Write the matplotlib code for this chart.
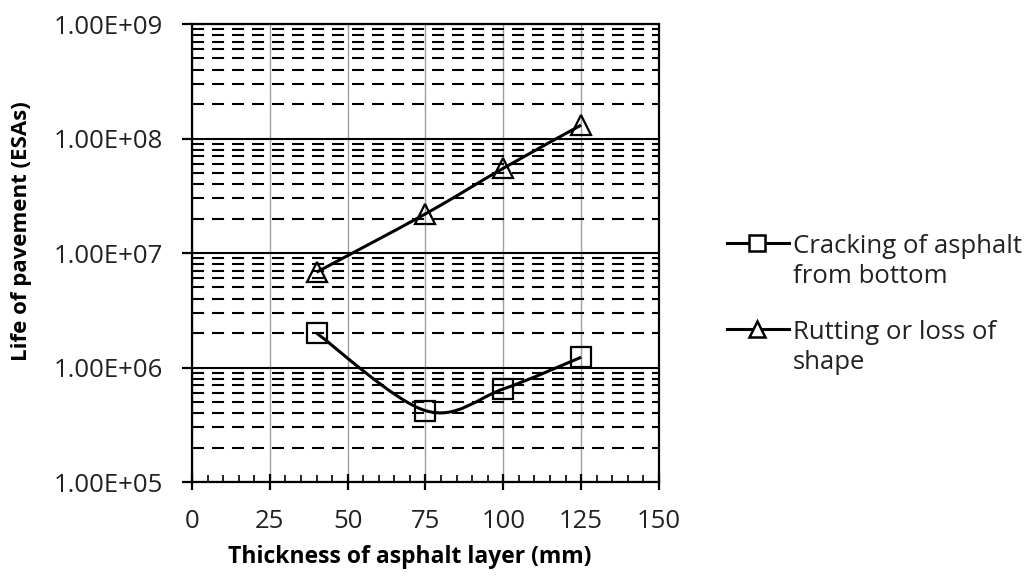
import numpy as np
import matplotlib

matplotlib.use("Agg")
import matplotlib.pyplot as plt  # noqa: E402
from matplotlib.path import Path  # noqa: E402
from matplotlib.patches import PathPatch  # noqa: E402
from matplotlib.ticker import FixedLocator, MultipleLocator, NullFormatter  # noqa: E402

thickness = [40, 75, 100, 125]
cracking = [2.0e6, 4.2e5, 6.5e5, 1.23e6]
rutting = [6.8e6, 2.2e7, 5.5e7, 1.31e8]
labels = ["Cracking of asphalt\nfrom bottom", "Rutting or loss of\nshape"]
y_ticks = [1e5, 1e6, 1e7, 1e8, 1e9]
y_ticklabels = ["1.00E+05", "1.00E+06", "1.00E+07", "1.00E+08", "1.00E+09"]

plt.rcParams["font.family"] = ["Open Sans", "DejaVu Sans"]
TEXT = "#222222"


def smooth_path(xs, ys):
    """Excel-like smoothed line: Bezier segments in (x, log y) space."""
    p = np.column_stack([np.asarray(xs, float), np.log10(ys)])
    verts = [p[0]]
    codes = [Path.MOVETO]
    n = len(p)
    for i in range(n - 1):
        p0 = p[i - 1] if i > 0 else p[i]
        p3 = p[i + 2] if i + 2 < n else p[i + 1]
        c1 = p[i] + (p[i + 1] - p0) / 6.0
        c2 = p[i + 1] - (p3 - p[i]) / 6.0
        verts += [c1, c2, p[i + 1]]
        codes += [Path.CURVE4] * 3
    verts = np.array(verts)
    verts[:, 1] = 10 ** verts[:, 1]
    return Path(verts, codes)


fig = plt.figure(figsize=(10.31, 5.77), dpi=100)
ax = fig.add_axes([0.1862, 0.1646, 0.453, 0.7938])
ax.set_yscale("log")
ax.set_xlim(0, 150)
ax.set_ylim(1e5, 1e9)

# gridlines
ax.yaxis.set_major_locator(FixedLocator(y_ticks))
ax.yaxis.set_minor_locator(FixedLocator(
    [m * 10 ** e for e in range(5, 9) for m in range(2, 10)]))
ax.yaxis.set_minor_formatter(NullFormatter())
ax.set_yticklabels(y_ticklabels)
ax.xaxis.set_major_locator(MultipleLocator(25))
ax.xaxis.set_minor_locator(MultipleLocator(5))
ax.grid(axis="y", which="major", color="black", lw=1.5)
ax.grid(axis="y", which="minor", color="black", lw=1.5, linestyle=(0, (5.8, 3.8)))
ax.grid(axis="x", which="major", color="#a0a0a0", lw=1.0)
ax.set_axisbelow(True)

for sp in ax.spines.values():
    sp.set_linewidth(1.6)
ax.tick_params(axis="x", which="major", direction="inout", length=11, width=1.6,
               labelsize=18.5, pad=14, labelcolor=TEXT)
ax.tick_params(axis="x", which="minor", direction="in", length=5, width=1.2)
ax.tick_params(axis="y", which="major", direction="out", length=7, width=1.6,
               labelsize=18.5, pad=14, labelcolor=TEXT)
ax.tick_params(axis="y", which="minor", direction="in", length=4, width=1.2)

series = [(cracking, "s"), (rutting, "^")]
for vals, marker in series:
    ax.add_patch(PathPatch(smooth_path(thickness, vals), facecolor="none",
                           edgecolor="black", lw=2.2, zorder=3))
    ax.plot(thickness, vals, linestyle="none", marker=marker, markersize=15,
            markerfacecolor="none", markeredgecolor="black", markeredgewidth=1.6,
            zorder=4)

ax.set_xlabel("Thickness of asphalt layer (mm)", fontsize=16.5, fontweight="bold",
              va="top")
ax.xaxis.set_label_coords(0.467, -0.138)
ax.set_ylabel("Life of pavement (ESAs)", fontsize=16, fontweight="bold")
ax.yaxis.set_label_coords(-0.342, 0.548)

# legend, handle aligned with the first line of each label (Excel style)
handle_y = [243, 329]
for (vals, marker), lab, yp in zip(series, labels, handle_y):
    y = 1 - yp / 577
    fig.add_artist(plt.Line2D([0.705, 0.765], [y, y], transform=fig.transFigure,
                              color="black", lw=2.2))
    fig.add_artist(plt.Line2D([0.734], [y], transform=fig.transFigure,
                              marker=marker, markersize=11, markerfacecolor="white",
                              markeredgecolor="black", markeredgewidth=1.8))
    # va="baseline" anchors the last line, which sits one line below the first
    fig.text(0.769, 1 - (yp + 40) / 577, lab, fontsize=18.5, color=TEXT,
             va="baseline", ha="left", linespacing=1.25)

fig.savefig("out.png", dpi=100)
